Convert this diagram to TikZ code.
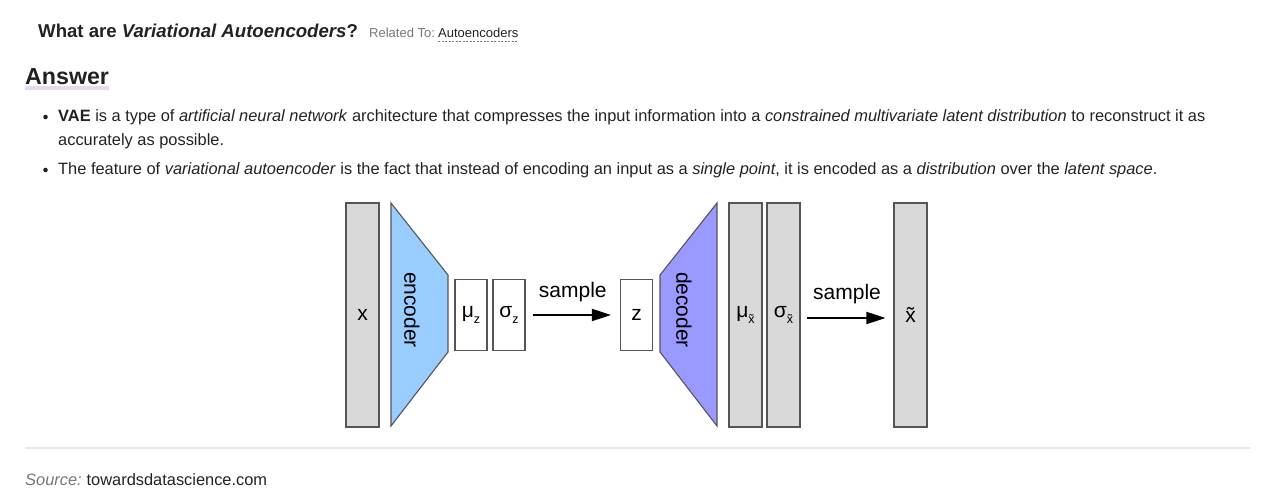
\documentclass[tikz,border=0pt]{standalone}
\usepackage{fontspec}
\setmainfont{Liberation Sans}
\usetikzlibrary{arrows.meta}
\definecolor{txt}{HTML}{222222}
\definecolor{graytxt}{HTML}{777777}
\definecolor{boxfill}{HTML}{D9D9D9}
\definecolor{boxline}{HTML}{555555}
\definecolor{encfill}{HTML}{99CCFF}
\definecolor{decfill}{HTML}{9999FF}
\definecolor{uline}{HTML}{E9D9EE}
\definecolor{sepline}{HTML}{E6E6E6}
\tikzset{
  body/.style={anchor=base west, inner sep=0pt, text=txt, font=\fontsize{16.4}{19}\selectfont},
  bulletdot/.style={circle, fill=txt, inner sep=0pt, minimum size=4.6pt},
  tallbox/.style={draw=boxline, line width=1.1pt, fill=boxfill, minimum width=33pt, minimum height=224pt, inner sep=0pt, font=\fontsize{21}{24}\selectfont},
  smallbox/.style={draw=boxline, line width=1.1pt, fill=white, minimum width=32pt, minimum height=71pt, inner sep=0pt, font=\fontsize{21}{24}\selectfont},
  trap/.style={draw=boxline, line width=1.1pt},
  arr/.style={-{Triangle[length=19pt,width=12pt]}, line width=1.8pt, black},
  lbl/.style={font=\fontsize{21}{24}\selectfont, inner sep=0pt},
}
\newcommand{\subz}[1]{\raisebox{-0.55ex}{\fontsize{12.5}{13}\selectfont #1}}
\begin{document}
\begin{tikzpicture}[x=1pt,y=-1pt]
\useasboundingbox (0,0) rectangle (1278,502);
% header
\node[body, font=\fontsize{18.6}{21}\selectfont\bfseries] (title) at (38,38) {What are \textit{Variational Autoencoders}?};
\node[body, text=graytxt, font=\fontsize{13}{15}\selectfont] (rel) at (369,38) {Related To:};
\node[body, font=\fontsize{13}{15}\selectfont] (relto) at (438,38) {Autoencoders};
\draw[graytxt, dash pattern=on 2pt off 1.5pt, line width=0.8pt] (438,41.5) -- (518,41.5);
% answer
\fill[uline] (25,86.5) rectangle (109,90);
\node[body, font=\fontsize{23.2}{26}\selectfont\bfseries] (answer) at (25,85) {Answer};
% bullets
\node[bulletdot] (b1) at (45.5,117) {};
\node[body] (l1) at (58,122) {\textbf{VAE} is a type of \textit{artificial neural network} architecture that compresses the input information into a \textit{constrained multivariate latent distribution} to reconstruct it as};
\node[body] (l2) at (58,146) {accurately as possible.};
\node[bulletdot] (b2) at (45.5,170) {};
\node[body] (l3) at (58,175) {The feature of \textit{variational autoencoder} is the fact that instead of encoding an input as a \textit{single point}, it is encoded as a \textit{distribution} over the \textit{latent space}.};
% diagram
\node[tallbox] (x) at (362.5,315) {x};
\fill[encfill] (391,203) -- (448,275) -- (448,352) -- (391,426) -- cycle;
\draw[trap] (391,203) -- (448,275) -- (448,352) -- (391,426) -- cycle;
\node[lbl, rotate=-90] (enc) at (412,310) {encoder};
\node[smallbox] (mz) at (471,315) {μ\subz{z}};
\node[smallbox] (sz) at (509,315) {σ\subz{z}};
\node[smallbox] (z) at (636.5,315) {z};
\draw[arr, shorten <=7pt, shorten >=9pt] (sz.east) -- (z.west |- sz.east) node[lbl, midway, above=12pt] (s1) {sample};
\fill[decfill] (660,275) -- (717,203) -- (717,426) -- (660,352) -- cycle;
\draw[trap] (660,275) -- (717,203) -- (717,426) -- (660,352) -- cycle;
\node[lbl, rotate=-90] (dec) at (684,310) {decoder};
\node[tallbox] (mx) at (745.5,315) {μ\subz{x̃}};
\node[tallbox] (sx) at (783.5,315) {σ\subz{x̃}};
\node[tallbox] (xt) at (910.5,315) {x̃};
\draw[arr, shorten <=6pt, shorten >=8pt] (sx.east |- 0,318) -- (xt.west |- 0,318) node[lbl, midway, above=13pt] (s2) {sample};
% footer
\draw[sepline, line width=1.2pt] (25,448) -- (1250,448);
\node[body, text=graytxt] (src) at (25,486) {\textit{Source:}};
\node[body, anchor=base west] (srcurl) at (src.base east) {\ towardsdatascience.com};
\end{tikzpicture}
\end{document}
